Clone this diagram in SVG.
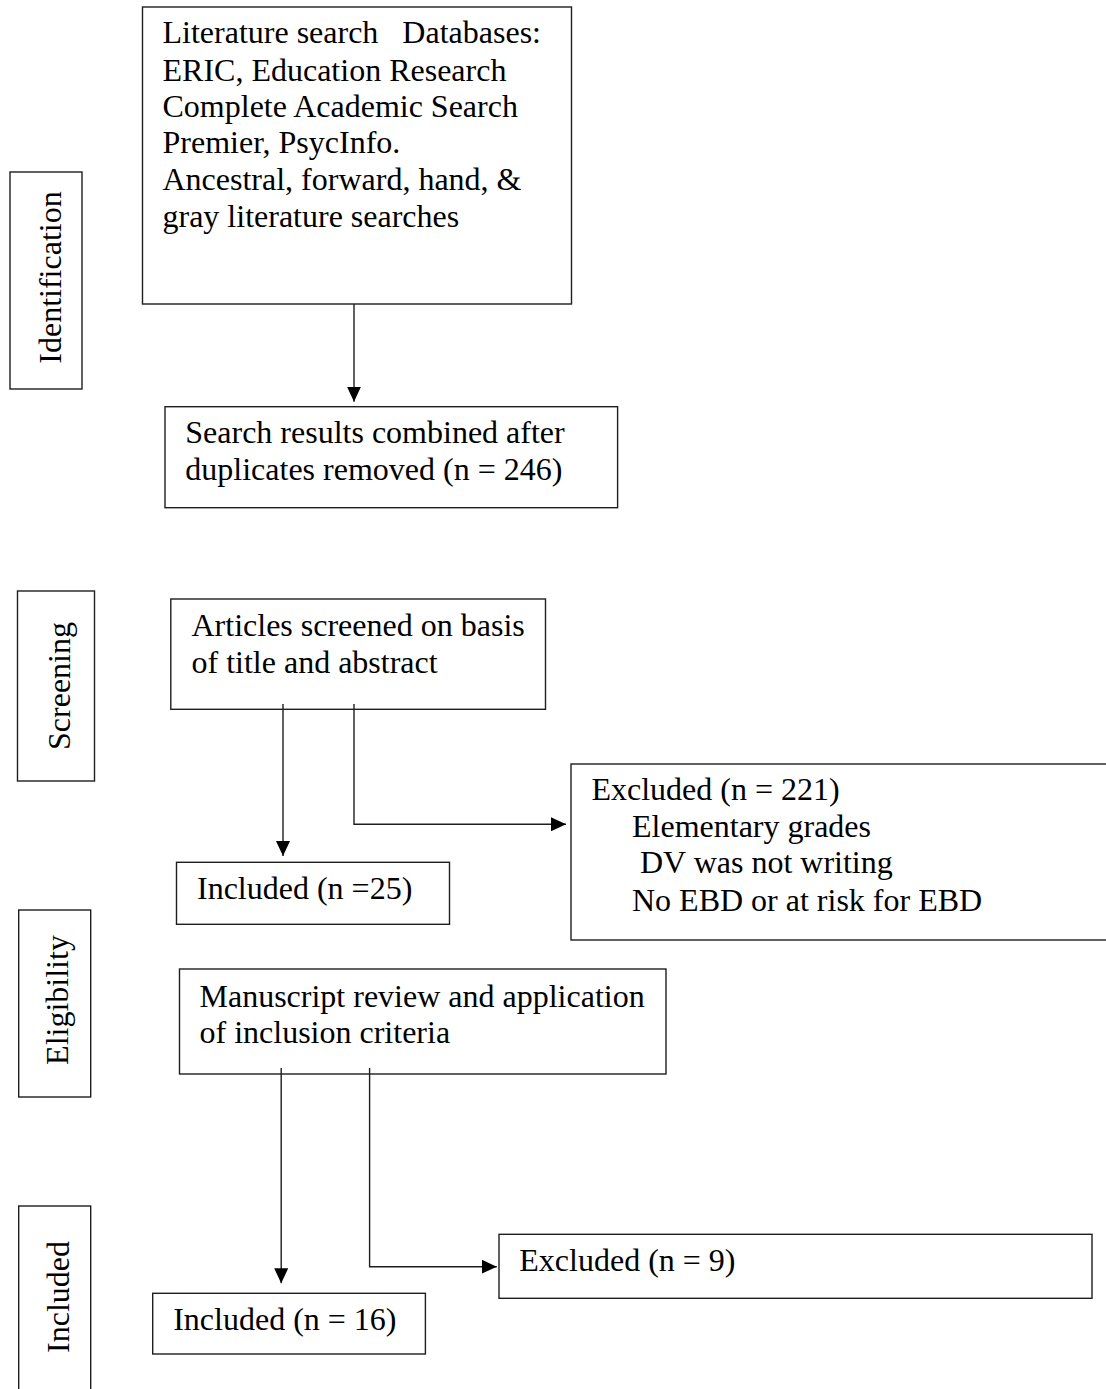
<svg xmlns="http://www.w3.org/2000/svg" width="1106" height="1389" viewBox="0 0 1106 1389">
<defs>
<style>
rect{fill:#fff;stroke:#1e1e1e;stroke-width:1.4}
text{font-family:"Liberation Serif","Times New Roman",serif;font-size:32px;fill:#000}
.c{fill:none;stroke:#1e1e1e;stroke-width:1.4}
</style>
<marker id="arr" viewBox="0 0 15 14" refX="15" refY="7" markerWidth="15" markerHeight="14" markerUnits="userSpaceOnUse" orient="auto">
<path d="M0,0 L15,7 L0,14 z" fill="#000"/>
</marker>
</defs>
<rect x="0" y="0" width="1106" height="1389" style="fill:#fff;stroke:none"/>
<g id="label-identification">
<rect x="10" y="172" width="72" height="217"/>
<text transform="translate(61,277.5) rotate(-90)" text-anchor="middle">Identification</text>
</g>
<g id="label-screening">
<rect x="17.5" y="591" width="77" height="190"/>
<text transform="translate(70,686) rotate(-90)" text-anchor="middle">Screening</text>
</g>
<g id="label-eligibility">
<rect x="18.7" y="910" width="72" height="187"/>
<text transform="translate(68,1000) rotate(-90)" text-anchor="middle">Eligibility</text>
</g>
<g id="label-included">
<rect x="18.7" y="1206" width="72" height="200"/>
<text transform="translate(69,1297) rotate(-90)" text-anchor="middle">Included</text>
</g>
<g id="search">
<rect x="142.5" y="7" width="429" height="297"/>
<text x="162.5" y="43.3" xml:space="preserve">Literature search   Databases:</text>
<text x="162.5" y="80.7">ERIC, Education Research</text>
<text x="162.5" y="117.3">Complete Academic Search</text>
<text x="162.5" y="153.3">Premier, PsycInfo.</text>
<text x="162.5" y="190">Ancestral, forward, hand, &amp;</text>
<text x="162.5" y="226.7">gray literature searches</text>
</g>
<g id="combined">
<rect x="165" y="406.7" width="452.6" height="101"/>
<text x="185.3" y="443.3">Search results combined after</text>
<text x="185.3" y="480">duplicates removed (n = 246)</text>
</g>
<g id="screened">
<rect x="170.8" y="599" width="374.7" height="110.3"/>
<text x="191.5" y="636">Articles screened on basis</text>
<text x="191.5" y="672.7">of title and abstract</text>
</g>
<g id="excluded1">
<rect x="571" y="764" width="545" height="176"/>
<text x="591.4" y="800">Excluded (n = 221)</text>
<text x="632" y="836.7">Elementary grades</text>
<text x="632" y="873.3" xml:space="preserve"> DV was not writing</text>
<text x="632" y="910.7">No EBD or at risk for EBD</text>
</g>
<g id="included1">
<rect x="176.5" y="862.3" width="273" height="62"/>
<text x="197" y="899">Included (n =25)</text>
</g>
<g id="manuscript">
<rect x="179.5" y="969" width="486.5" height="105"/>
<text x="199.5" y="1006.7">Manuscript review and application</text>
<text x="199.5" y="1043.3">of inclusion criteria</text>
</g>
<g id="excluded2">
<rect x="499" y="1234.3" width="593" height="64"/>
<text x="519.3" y="1270.7">Excluded (n = 9)</text>
</g>
<g id="included2">
<rect x="152.7" y="1293.3" width="272.7" height="60.7"/>
<text x="173.2" y="1330">Included (n = 16)</text>
</g>
<g id="connectors">
<path class="c" d="M354,304 L354,401.7" marker-end="url(#arr)"/>
<path class="c" d="M283,704 L283,856" marker-end="url(#arr)"/>
<path class="c" d="M354,704 L354,824.3 L566,824.3" marker-end="url(#arr)"/>
<path class="c" d="M281.2,1068 L281.2,1283.3" marker-end="url(#arr)"/>
<path class="c" d="M369.6,1068 L369.6,1266.7 L496.8,1266.7" marker-end="url(#arr)"/>
</g>
</svg>
